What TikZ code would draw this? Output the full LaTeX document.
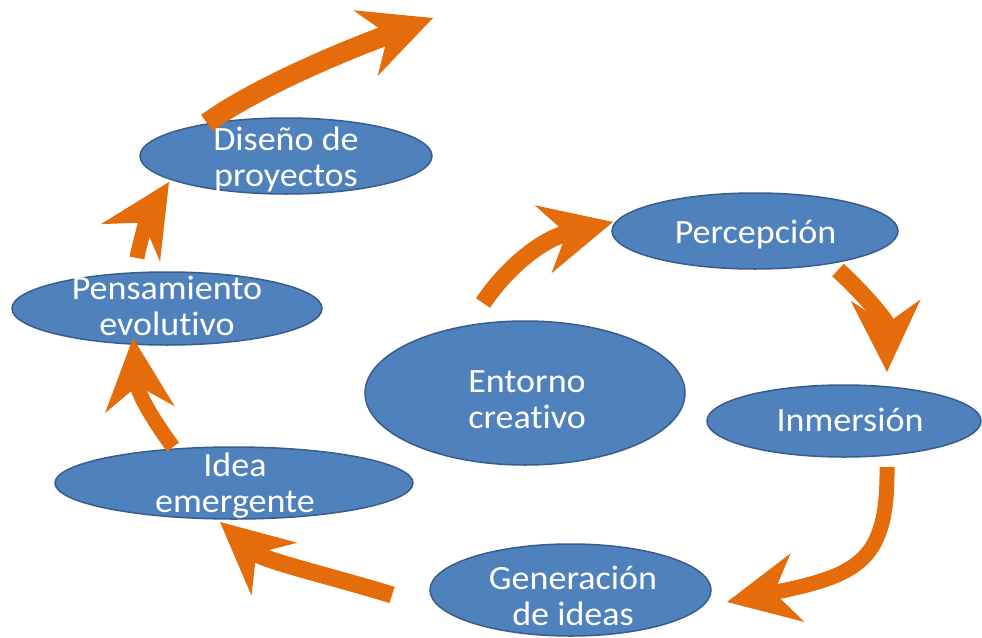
\documentclass[tikz,border=0pt]{standalone}
\usepackage{fontspec}
\setmainfont{Carlito}[FakeStretch=1.06,Ligatures=NoCommon]
\usetikzlibrary{arrows.meta,shapes.geometric}
\definecolor{ellfill}{HTML}{4F81BD}
\definecolor{elldraw}{HTML}{385D8A}
\definecolor{arrorange}{HTML}{E46C0A}
\begin{document}
\begin{tikzpicture}[x=1pt,y=-1pt,
  ell/.style={ellipse, fill=ellfill, draw=elldraw, line width=1.5pt, inner sep=0pt, outer sep=0pt},
  lbl/.style={text=white, font=\fontsize{34}{36}\selectfont, align=center, inner sep=0pt},
  flow/.style={draw=arrorange, line width=17pt, line cap=butt,
    -{Stealth[length=72pt,width=70pt,inset=24pt,line width=0pt]}}]
\fill[white] (0,0) rectangle (982,637);
\useasboundingbox (0,0) rectangle (982,637);
% ellipses
\node[ell, minimum width=292pt, minimum height=76pt] (dis) at (286,156) {};
\node[ell, minimum width=310pt, minimum height=73pt] (pen) at (167,308.5) {};
\node[ell, minimum width=358pt, minimum height=72pt] (ide) at (234,483) {};
\node[ell, minimum width=320pt, minimum height=144pt] (ent) at (525,393) {};
\node[ell, minimum width=286pt, minimum height=76pt] (per) at (755,231) {};
\node[ell, minimum width=274pt, minimum height=72pt] (inm) at (844,421) {};
\node[ell, minimum width=281pt, minimum height=92pt] (gen) at (570.5,590) {};
% arrow end points
\coordinate (a1s) at (207,123);   \coordinate (a1e) at (433,18);
\coordinate (a2s) at (137,258);   \coordinate (a2e) at (169,182);
\coordinate (a3s) at (173,447);   \coordinate (a3e) at (133,338);
\coordinate (a4s) at (392,595);   \coordinate (a4e) at (220,522);
\coordinate (a5s) at (887,467);   \coordinate (a5e) at (727,602);
\coordinate (a6s) at (838,270);   \coordinate (a6e) at (887,372);
\coordinate (a7s) at (483,303);   \coordinate (a7e) at (613,222);
% arrows
\draw[flow, line width=20pt] (a1s) .. controls (245,95) and (320,60) .. (a1e);
\draw[flow, line width=15pt] (a2s) .. controls (140,240) and (150,212) .. (a2e);
\draw[flow, line width=15pt] (a3s) .. controls (155,423) and (138.5,395) .. (a3e);
\draw[flow] (a4s) .. controls (345,580) and (265,561) .. (a4e);
\draw[flow, line width=15pt] (a5s) .. controls (888,560) and (860,575) .. (a5e);
\draw[flow] (a6s) .. controls (862,292) and (886,320) .. (a6e);
\draw[flow] (a7s) .. controls (505,270) and (540,240) .. (a7e);
% labels
\node[lbl] (disT) at (286,159) {Diseño de\\proyectos};
\node[lbl] (penT) at (167,306) {Pensamiento\\evolutivo};
\node[lbl] (ideT) at (235,486) {Idea\\emergente};
\node[lbl] (entT) at (527,400) {Entorno\\creativo};
\node[lbl] (perT) at (755.5,234.5) {Percepción};
\node[lbl] (inmT) at (850,420) {Inmersión};
\node[lbl] (genT) at (573,596) {Generación\\de ideas};
\end{tikzpicture}
\end{document}
